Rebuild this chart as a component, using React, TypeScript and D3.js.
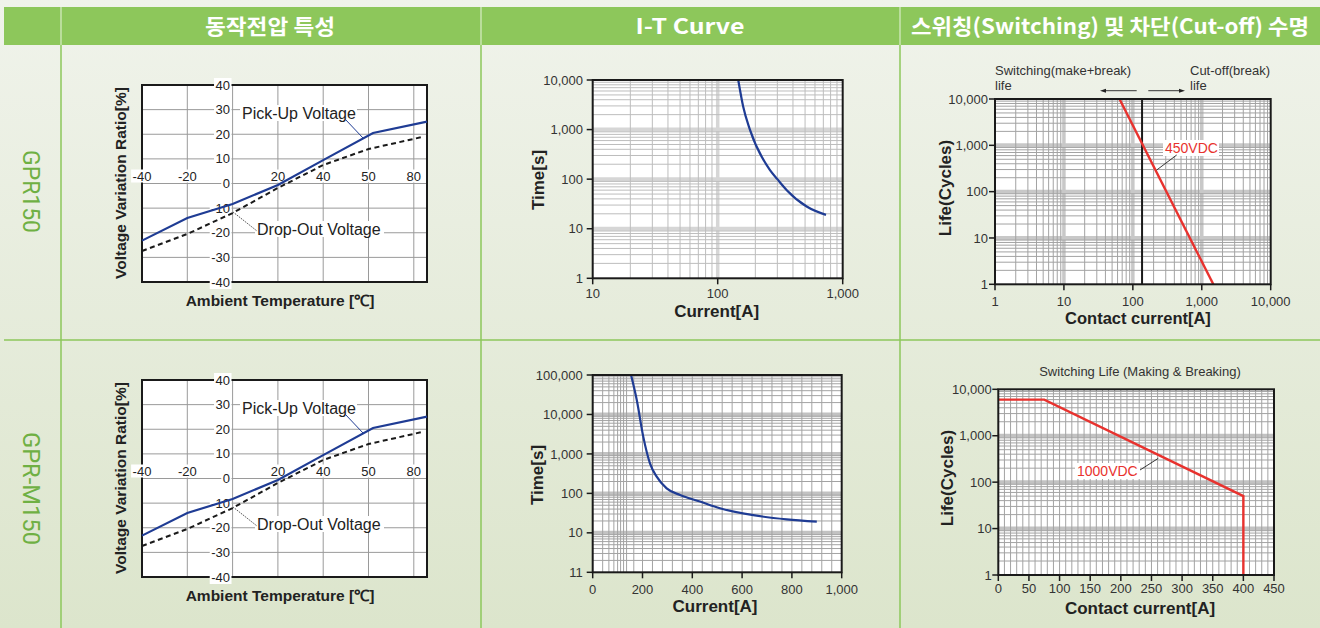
import React from 'react';
import * as d3 from 'd3';

const WIDTH = 1320;
const HEIGHT = 628;
const FONT = '"Liberation Sans", Arial, Helvetica, sans-serif';
const BLUE = '#1f3c94';
const RED = '#e8322e';
const GREEN = '#8dc75b';

// table headers / row names
const headers = ['동작전압 특성', 'I-T Curve', '스위칭(Switching) 및 차단(Cut-off) 수명'];
const models = ['GPR150', 'GPR-M150'];

// 동작전압 특성 (same for both models)
const tempTicks = [-40, -20, 0, 20, 40, 50, 80];
const ratioTicks = [40, 30, 20, 10, 0, -10, -20, -30, -40];
const pickUpTemp = [-40, -20, 0, 20, 40, 53, 90];
const pickUpRatio = [-23.2, -14, -8.3, -0.6, 9.5, 20.5, 25.1];
const dropOutTemp = [-40, -20, 0, 20, 40, 50, 80, 86];
const dropOutRatio = [-27.4, -20.5, -12, -1.8, 7.5, 14, 18.1, 18.9];

// I-T curve GPR150 (log / log)
const itTopCurrent = [146, 160, 181, 262, 300, 357, 515, 735];
const itTopTime = [10000, 2880, 1000, 152, 100, 60, 28, 19];
const itTopTimeTicks = [1, 10, 100, 1000, 10000];
const itTopCurrentTicks = [10, 100, 1000];

// I-T curve GPR-M150 (linear current, log time)
const itBotCurrent = [154, 177, 203, 230, 257, 297, 351, 431, 511, 645, 779, 900];
const itBotTime = [100000, 23300, 2740, 578, 265, 134, 91, 62, 42, 28, 22, 19.2];
const itBotTimeTicks = [1, 10, 100, 1000, 10000, 100000];
const itBotTimeLabels = ['11', '10', '100', '1,000', '10,000', '100,000'];
const itBotCurrentTicks = [0, 200, 400, 600, 800, 1000];
const itBotGridCurrent = [40, 65, 85, 100, 112, 124, 136, 165, 200, ...d3.range(240, 1000, 40)];

// switching / cut-off life GPR150
const lifeTopTicks = [1, 10, 100, 1000, 10000];
const life450Current = [64, 1470];
const life450Cycles = [10000, 1];
const cutOffCurrent = 136;

// switching life GPR-M150
const lifeBotCurrentTicks = [0, 50, 100, 150, 200, 250, 300, 350, 400, 450];
const lifeBotCycleTicks = [1, 10, 100, 1000, 10000];
const life1000Current = [0, 75, 400, 400];
const life1000Cycles = [6000, 6000, 50, 1];

const fmt = d3.format(',');

const textW = (s: string, fs: number) =>
  s.split('').reduce((a, c) => a + (/[0-9]/.test(c) ? 0.556 : c === '-' ? 0.333 : c === ',' ? 0.278 : 0.6), 0) * fs;

// minor log lines (2..9 of every decade) and inner decade lines
const logMinor = (lo: number, hi: number) => {
  const out: number[] = [];
  for (let p = lo; p < hi; p *= 10) for (let m = 2; m <= 9; m++) out.push(p * m);
  return out;
};
const logMajor = (lo: number, hi: number) => {
  const out: number[] = [];
  for (let p = lo * 10; p < hi; p *= 10) out.push(p);
  return out;
};

const VTitle = ({ x, y, size = 17, children }: any) => (
  <text transform={`translate(${x},${y}) rotate(-90)`} textAnchor="middle" fontWeight="bold" fontSize={size} fill="#222">
    {children}
  </text>
);

const HTitle = ({ x, y, size = 17, children }: any) => (
  <text x={x} y={y} textAnchor="middle" fontWeight="bold" fontSize={size} fill="#222">
    {children}
  </text>
);

const VoltageChart = ({ dy }: { dy: number }) => {
  const l = 142, r = 427, t = 85 + dy, b = 282 + dy, step = 45.3;
  const x = d3.scaleLinear()
    .domain([...tempTicks, 90])
    .range([...tempTicks.map((_, i) => l + i * step), r]);
  const y = d3.scaleLinear().domain([-40, 40]).range([b, t]);
  const line = d3.line<[number, number]>().x(d => x(d[0])).y(d => y(d[1]));
  const y0 = y(0);

  return (
    <g fontFamily={FONT}>
      <rect x={l} y={t} width={r - l} height={b - t} fill="#fff" />
      {tempTicks.map(v => (
        <line key={'gx' + v} x1={x(v)} x2={x(v)} y1={t} y2={b} stroke="#9a9a9a" />
      ))}
      {ratioTicks.map(v => (
        <line key={'gy' + v} x1={l} x2={r} y1={y(v)} y2={y(v)} stroke="#9a9a9a" />
      ))}
      <rect x={l} y={t} width={r - l} height={b - t} fill="none" stroke="#1a1a1a" strokeWidth={2} />
      {ratioTicks.map(v => {
        const s = String(v);
        const w = textW(s, 13);
        return (
          <g key={'ly' + v}>
            <rect x={230 - w - 1.5} y={y(v) - 7} width={w + 3} height={14} fill="#fff" />
            <text x={230} y={y(v) + 4.6} textAnchor="end" fontSize={13} fill="#222">{s}</text>
          </g>
        );
      })}
      {tempTicks.filter(v => v !== 0).map(v => {
        const s = String(v);
        const w = textW(s, 13);
        return (
          <g key={'lx' + v}>
            <rect x={x(v) - w / 2 - 1.5} y={y0 - 14} width={w + 3} height={13} fill="#fff" />
            <text x={x(v)} y={y0 - 3} textAnchor="middle" fontSize={13} fill="#222">{s}</text>
          </g>
        );
      })}
      <path d={line(d3.zip(dropOutTemp, dropOutRatio) as any) || ''} stroke="#1a1a1a" strokeWidth={2} strokeDasharray="5,3.5" fill="none" />
      <path d={line(d3.zip(pickUpTemp, pickUpRatio) as any) || ''} stroke={BLUE} strokeWidth={2.2} fill="none" />

      {/* Pick-Up label */}
      <rect x={240} y={t + 20} width={117} height={16} fill="#fff" />
      <text x={242} y={t + 33.5} fontSize={16} fill="#222">Pick-Up Voltage</text>
      <line x1={345} y1={t + 34} x2={363} y2={t + 53} stroke={BLUE} strokeWidth={1} />
      {/* Drop-Out label */}
      <rect x={255} y={t + 136} width={129} height={16} fill="#fff" />
      <text x={257} y={t + 149.5} fontSize={16} fill="#222">Drop-Out Voltage</text>
      <line x1={233} y1={t + 127} x2={257} y2={t + 146} stroke="#444" strokeWidth={0.9} strokeDasharray="1.5,1" />

      <VTitle x={125.5} y={t + 98} size={15.5}>Voltage Variation Ratio[%]</VTitle>
      <HTitle x={280} y={b + 23.5} size={15.5}>Ambient Temperature [℃]</HTitle>
    </g>
  );
};

const GridLines = ({ xs = [], xsMajor = [], ys = [], ysMajor = [], x, y, l, r, t, b, minor, major }: any) => (
  <g>
    {xsMajor.map((v: number) => (
      <line key={'xM' + v} x1={x(v)} x2={x(v)} y1={t} y2={b} stroke={major} strokeWidth={3.5} />
    ))}
    {ysMajor.map((v: number) => (
      <line key={'yM' + v} x1={l} x2={r} y1={y(v)} y2={y(v)} stroke={major} strokeWidth={4} />
    ))}
    {xs.map((v: number) => (
      <line key={'xm' + v} x1={x(v)} x2={x(v)} y1={t} y2={b} stroke={minor} strokeWidth={1} />
    ))}
    {ys.map((v: number) => (
      <line key={'ym' + v} x1={l} x2={r} y1={y(v)} y2={y(v)} stroke={minor} strokeWidth={1} />
    ))}
  </g>
);

const Axes = ({ x, y, l, r, t, b, xTicks, yTicks, xLabels, yLabels, xLabelY, yLabelX }: any) => (
  <g>
    <rect x={l} y={t} width={r - l} height={b - t} fill="none" stroke="#1a1a1a" strokeWidth={2} />
    {yTicks.map((v: number, i: number) => (
      <g key={'ty' + v}>
        <line x1={l - 6} x2={l} y1={y(v)} y2={y(v)} stroke="#1a1a1a" strokeWidth={1.5} />
        <text x={yLabelX} y={y(v) + 4.6} textAnchor="end" fontSize={13} fill="#333">{yLabels[i]}</text>
      </g>
    ))}
    {xTicks.map((v: number, i: number) => (
      <g key={'tx' + v}>
        <line x1={x(v)} x2={x(v)} y1={b} y2={b + 6} stroke="#1a1a1a" strokeWidth={1.5} />
        <text x={x(v)} y={xLabelY} textAnchor="middle" fontSize={13} fill="#333">{xLabels[i]}</text>
      </g>
    ))}
  </g>
);

const ItTop = () => {
  const l = 592.7, r = 842.7, t = 80, b = 278.3;
  const x = d3.scaleLog().domain([10, 1000]).range([l, r]);
  const y = d3.scaleLog().domain([1, 10000]).range([b, t]);
  const line = d3.line<[number, number]>().x(d => x(d[0])).y(d => y(d[1])).curve(d3.curveMonotoneX);
  return (
    <g fontFamily={FONT}>
      <rect x={l} y={t} width={r - l} height={b - t} fill="#fff" />
      <GridLines x={x} y={y} l={l} r={r} t={t} b={b}
        xs={logMinor(10, 1000)} xsMajor={logMajor(10, 1000)}
        ys={logMinor(1, 10000)} ysMajor={logMajor(1, 10000)}
        minor="#bdbdbd" major="#d6d6d6" />
      <path d={line(d3.zip(itTopCurrent, itTopTime) as any) || ''} stroke={BLUE} strokeWidth={2.2} fill="none" />
      <Axes x={x} y={y} l={l} r={r} t={t} b={b}
        xTicks={itTopCurrentTicks} xLabels={itTopCurrentTicks.map(fmt)}
        yTicks={itTopTimeTicks} yLabels={itTopTimeTicks.map(fmt)}
        xLabelY={298} yLabelX={583} />
      <VTitle x={543.5} y={180}>Time[s]</VTitle>
      <HTitle x={716.7} y={316.5}>Current[A]</HTitle>
    </g>
  );
};

const ItBottom = () => {
  const l = 592.7, r = 841.7, t = 375, b = 572.3;
  const x = d3.scaleLinear().domain([0, 1000]).range([l, r]);
  const y = d3.scaleLog().domain([1, 100000]).range([b, t]);
  const line = d3.line<[number, number]>().x(d => x(d[0])).y(d => y(d[1])).curve(d3.curveMonotoneX);
  return (
    <g fontFamily={FONT}>
      <rect x={l} y={t} width={r - l} height={b - t} fill="#fff" />
      <GridLines x={x} y={y} l={l} r={r} t={t} b={b}
        xs={itBotGridCurrent}
        ys={logMinor(1, 100000)} ysMajor={logMajor(1, 100000)}
        minor="#a3a3a3" major="#c2c2c2" />
      <path d={line(d3.zip(itBotCurrent, itBotTime) as any) || ''} stroke={BLUE} strokeWidth={2.2} fill="none" />
      <Axes x={x} y={y} l={l} r={r} t={t} b={b}
        xTicks={itBotCurrentTicks} xLabels={itBotCurrentTicks.map(fmt)}
        yTicks={itBotTimeTicks} yLabels={itBotTimeLabels}
        xLabelY={594} yLabelX={582.7} />
      <VTitle x={542.7} y={475}>Time[s]</VTitle>
      <HTitle x={715} y={612.4}>Current[A]</HTitle>
    </g>
  );
};

const Arrow = ({ x1, x2, y }: any) => {
  const d = x2 > x1 ? -1 : 1;
  return (
    <g>
      <line x1={x1} x2={x2 + d * 4} y1={y} y2={y} stroke="#222" strokeWidth={0.9} />
      <path d={`M${x2},${y} L${x2 + d * 6},${y - 2} L${x2 + d * 6},${y + 2} Z`} fill="#222" />
    </g>
  );
};

const LifeTop = () => {
  const l = 995, r = 1270.7, t = 99, b = 284.3;
  const x = d3.scaleLog().domain([1, 10000]).range([l, r]);
  const y = d3.scaleLog().domain([1, 10000]).range([b, t]);
  const line = d3.line<[number, number]>().x(d => x(d[0])).y(d => y(d[1]));
  return (
    <g fontFamily={FONT}>
      <text x={995} y={74.5} fontSize={13} fill="#333">Switching(make+break)</text>
      <text x={995} y={90} fontSize={13} fill="#333">life</text>
      <text x={1190} y={74.5} fontSize={13} fill="#333">Cut-off(break)</text>
      <text x={1190} y={90} fontSize={13} fill="#333">life</text>
      <Arrow x1={1136.7} x2={1100} y={90.7} />
      <Arrow x1={1148.3} x2={1185} y={90.7} />
      <rect x={l} y={t} width={r - l} height={b - t} fill="#fff" />
      <GridLines x={x} y={y} l={l} r={r} t={t} b={b}
        xs={logMinor(1, 10000)} xsMajor={logMajor(1, 10000)}
        ys={logMinor(1, 10000)} ysMajor={logMajor(1, 10000)}
        minor="#a3a3a3" major="#c8c8c8" />
      <line x1={x(cutOffCurrent)} x2={x(cutOffCurrent)} y1={t} y2={b} stroke="#1a1a1a" strokeWidth={2} />
      <path d={line(d3.zip(life450Current, life450Cycles) as any) || ''} stroke={RED} strokeWidth={2.4} fill="none" />
      <rect x={1163} y={140} width={56} height={16} fill="#fff" />
      <text x={1165} y={153} fontSize={14} fill={RED}>450VDC</text>
      <line x1={1176.7} y1={155} x2={1156.7} y2={170} stroke="#222" strokeWidth={0.9} />
      <Axes x={x} y={y} l={l} r={r} t={t} b={b}
        xTicks={lifeTopTicks} xLabels={lifeTopTicks.map(fmt)}
        yTicks={lifeTopTicks} yLabels={lifeTopTicks.map(fmt)}
        xLabelY={306} yLabelX={988} />
      <VTitle x={951} y={188}>Life(Cycles)</VTitle>
      <HTitle x={1138} y={324} size={16.5}>Contact current[A]</HTitle>
    </g>
  );
};

const LifeBottom = () => {
  const l = 998.3, r = 1274, t = 389.3, b = 575;
  const x = d3.scaleLinear().domain([0, 450]).range([l, r]);
  const y = d3.scaleLog().domain([1, 10000]).range([b, t]);
  const line = d3.line<[number, number]>().x(d => x(d[0])).y(d => y(d[1]));
  return (
    <g fontFamily={FONT}>
      <text x={1140} y={375.5} textAnchor="middle" fontSize={13} fill="#333">Switching Life (Making &amp; Breaking)</text>
      <rect x={l} y={t} width={r - l} height={b - t} fill="#fff" />
      <GridLines x={x} y={y} l={l} r={r} t={t} b={b}
        xs={d3.range(10, 450, 10)}
        ys={logMinor(1, 10000)} ysMajor={logMajor(1, 10000)}
        minor="#a3a3a3" major="#c2c2c2" />
      <path d={line(d3.zip(life1000Current, life1000Cycles) as any) || ''} stroke={RED} strokeWidth={2.4} fill="none" />
      <rect x={1075} y={463} width={65} height={16} fill="#fff" />
      <text x={1077} y={476} fontSize={14} fill={RED}>1000VDC</text>
      <line x1={1140} y1={470} x2={1158.3} y2={458.3} stroke="#222" strokeWidth={0.9} />
      <Axes x={x} y={y} l={l} r={r} t={t} b={b}
        xTicks={lifeBotCurrentTicks} xLabels={lifeBotCurrentTicks.map(String)}
        yTicks={lifeBotCycleTicks} yLabels={lifeBotCycleTicks.map(fmt)}
        xLabelY={593} yLabelX={991.7} />
      <VTitle x={952.7} y={478}>Life(Cycles)</VTitle>
      <HTitle x={1140} y={614}>Contact current[A]</HTitle>
    </g>
  );
};

const headerCenters = [270, 690, 1110];
const headerLengths = [130, 109, 398];
const modelCenters = [191.5, 488.5];
const modelLengths = [83, 113];

const App = () => (
  <div style={{ position: 'absolute', left: 0, top: 0 }}>
    <svg width={WIDTH} height={HEIGHT} viewBox={`0 0 ${WIDTH} ${HEIGHT}`} style={{ display: 'block' }}>
      <defs>
        <linearGradient id="bg" x1="0" y1="0" x2="0" y2="1">
          <stop offset="0" stopColor="#f0f3eb" />
          <stop offset="1" stopColor="#dce5cc" />
        </linearGradient>
      </defs>
      <rect width={WIDTH} height={HEIGHT} fill="url(#bg)" />
      <rect x={4} y={7} width={WIDTH - 4} height={38} fill={GREEN} />
      {[61, 481, 900].map(v => (
        <g key={v}>
          <line x1={v} x2={v} y1={7} y2={45} stroke="#d9edc8" strokeWidth={1.2} />
          <line x1={v} x2={v} y1={45} y2={HEIGHT} stroke={GREEN} strokeWidth={1.5} />
        </g>
      ))}
      <line x1={4} x2={WIDTH} y1={340} y2={340} stroke={GREEN} strokeWidth={1.5} />
      {headers.map((h, i) => (
        <text key={h} x={headerCenters[i]} y={34} textAnchor="middle" fill="#fff" fontWeight="bold"
          fontSize={21} fontFamily='"Noto Sans CJK KR", sans-serif'
          textLength={headerLengths[i]} lengthAdjust="spacingAndGlyphs">{h}</text>
      ))}
      {models.map((m, i) => (
        <text key={m} transform={`translate(22.5,${modelCenters[i]}) rotate(90)`} textAnchor="middle"
          fill="#6fb043" fontSize={24} fontFamily="Roboto, sans-serif"
          textLength={modelLengths[i]} lengthAdjust="spacingAndGlyphs">{m}</text>
      ))}
      <VoltageChart dy={0} />
      <VoltageChart dy={295} />
      <ItTop />
      <ItBottom />
      <LifeTop />
      <LifeBottom />
    </svg>
  </div>
);

export default App;
